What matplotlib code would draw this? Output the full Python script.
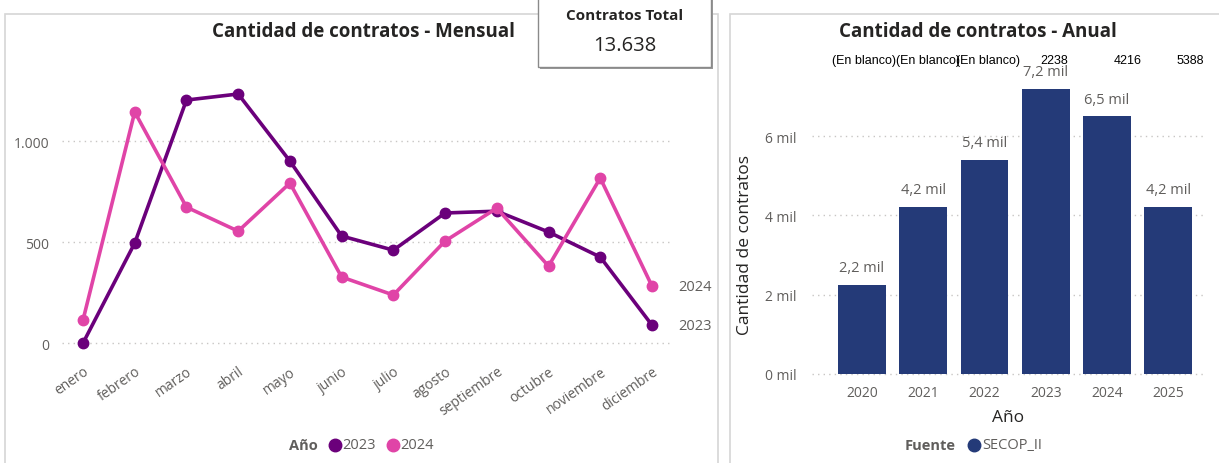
import matplotlib
matplotlib.use("Agg")
import matplotlib.pyplot as plt
from matplotlib.patches import Rectangle
from matplotlib.lines import Line2D

months = ["enero", "febrero", "marzo", "abril", "mayo", "junio", "julio",
          "agosto", "septiembre", "octubre", "noviembre", "diciembre"]
v2023 = [0, 495, 1203, 1233, 901, 530, 460, 644, 653, 550, 426, 89]
v2024 = [114, 1144, 673, 554, 792, 327, 238, 505, 668, 381, 817, 282]
series_names = ["2023", "2024"]

years = ["2020", "2021", "2022", "2023", "2024", "2025"]
annual = [2238, 4216, 5388, 7184, 6495, 4210]
header_labels = ["(En blanco)", "(En blanco)", "(En blanco)", "2238", "4216", "5388"]
kpi_total = "13.638"

c2023 = "#6B007B"
c2024 = "#E044A7"
cbar = "#243A78"
gray = "#605E5C"
dark = "#252423"

plt.rcParams['font.family'] = ['Open Sans', 'DejaVu Sans']

W, H = 1219, 464
fig = plt.figure(figsize=(W / 100, H / 100), dpi=100)

def fx(px):
    return px / W

def fy(py):
    return 1 - py / H

# panel borders
fig.patches.append(Rectangle((fx(5), fy(470)), fx(713), fy(15) - fy(470),
                             transform=fig.transFigure, fill=False,
                             edgecolor="#D6D6D6", lw=1.2))
fig.patches.append(Rectangle((fx(730), fy(470)), fx(500), fy(15) - fy(470),
                             transform=fig.transFigure, fill=False,
                             edgecolor="#D6D6D6", lw=1.2))

# ---------- Left: monthly line chart ----------
ax = fig.add_axes([fx(62), fy(355), fx(610), fy(75) - fy(355)])
x = list(range(len(months)))
ax.plot(x, v2023, color=c2023, lw=2.6, marker="o", ms=7.5, zorder=3)
ax.plot(x, v2024, color=c2024, lw=2.6, marker="o", ms=7.5, zorder=3)
ax.set_xlim(-0.406, 11.387)
ax.set_ylim(-54, 1332)
ax.set_yticks([0, 500, 1000])
ax.set_yticklabels(["0", "500", "1.000"])
ax.set_xticks(x)
ax.set_xticklabels(months, rotation=35, ha="right", rotation_mode="anchor")
ax.tick_params(axis="both", length=0, colors=gray, labelsize=10)
ax.tick_params(axis="y", pad=9)
ax.tick_params(axis="x", pad=7)
for s in ax.spines.values():
    s.set_visible(False)
ax.grid(axis="y", color="#C8C6C4", ls=(0, (1, 3)), lw=1)
ax.set_axisbelow(True)
ax.text(11.5, v2024[-1], series_names[1], color=gray, fontsize=10.5, va="center",
        ha="left", clip_on=False)
ax.text(11.5, v2023[-1], series_names[0], color=gray, fontsize=10.5, va="center",
        ha="left", clip_on=False)

fig.text(fx(364), fy(32), "Cantidad de contratos - Mensual", ha="center", va="center",
         fontsize=13.5, fontweight="bold", color=dark)

# legend left
fig.text(fx(318), fy(446), "Año", ha="right", va="center", fontsize=10.5,
         fontweight="bold", color=gray)
fig.lines.append(Line2D([fx(335)], [fy(446)], marker="o", ms=9, color=c2023,
                        transform=fig.transFigure))
fig.text(fx(342), fy(446), series_names[0], ha="left", va="center", fontsize=10.5, color=gray)
fig.lines.append(Line2D([fx(393)], [fy(446)], marker="o", ms=9, color=c2024,
                        transform=fig.transFigure))
fig.text(fx(400), fy(446), series_names[1], ha="left", va="center", fontsize=10.5, color=gray)

# KPI card
fig.patches.append(Rectangle((fx(540), fy(70)), fx(173), fy(-5) - fy(70),
                             transform=fig.transFigure, facecolor="#9A9A9A",
                             edgecolor="none", zorder=4))
fig.patches.append(Rectangle((fx(538), fy(68)), fx(173), fy(-5) - fy(68),
                             transform=fig.transFigure, facecolor="white",
                             edgecolor="#8A8A8A", lw=1, zorder=5))
fig.text(fx(625), fy(16), "Contratos Total", ha="center", va="center", fontsize=11,
         fontweight="bold", color=dark, zorder=6)
fig.text(fx(625), fy(46), kpi_total, ha="center", va="center", fontsize=14.5,
         color=dark, zorder=6)

# ---------- Right: annual bar chart ----------
ax2 = fig.add_axes([fx(812), fy(378), fx(393), fy(75) - fy(378)])
xb = list(range(len(years)))
ax2.bar(xb, annual, width=0.78, color=cbar, zorder=3)
ax2.set_xlim(-0.817, 5.6)
ax2.set_ylim(-76, 7566)
ax2.set_yticks([0, 2000, 4000, 6000])
ax2.set_yticklabels(["0 mil", "2 mil", "4 mil", "6 mil"])
ax2.set_xticks(xb)
ax2.set_xticklabels(years)
ax2.tick_params(axis="both", length=0, colors=gray, labelsize=10)
ax2.tick_params(axis="y", pad=11)
ax2.tick_params(axis="x", pad=6)
for s in ax2.spines.values():
    s.set_visible(False)
ax2.grid(axis="y", color="#C8C6C4", ls=(0, (1, 3)), lw=1)
ax2.set_axisbelow(True)
for xi, v in zip(xb, annual):
    lbl = f"{v / 1000:.1f}".replace(".", ",") + " mil"
    ax2.text(xi, v + 250, lbl, ha="center", va="bottom", fontsize=10.5, color=gray)
ax2.set_xlabel("Año", fontsize=12.5, color=dark, labelpad=6)
fig.text(fx(745), fy(245), "Cantidad de contratos", rotation=90, ha="center",
         va="center", fontsize=12.5, color=dark)

fig.text(fx(978), fy(32), "Cantidad de contratos - Anual", ha="center", va="center",
         fontsize=13.5, fontweight="bold", color=dark)

header_x = [864, 928, 988, 1054, 1128, 1190]
for hx, hl in zip(header_x, header_labels):
    fig.text(fx(hx), fy(61), hl, ha="center", va="center", fontsize=9,
             color="black", family=["Liberation Sans", "DejaVu Sans"])

# legend right
fig.text(fx(956), fy(446), "Fuente", ha="right", va="center", fontsize=10.5,
         fontweight="bold", color=gray)
fig.lines.append(Line2D([fx(974)], [fy(446)], marker="o", ms=9, color=cbar,
                        transform=fig.transFigure))
fig.text(fx(982), fy(446), "SECOP_II", ha="left", va="center", fontsize=10.5, color=gray)

fig.savefig("out.png", dpi=100)
